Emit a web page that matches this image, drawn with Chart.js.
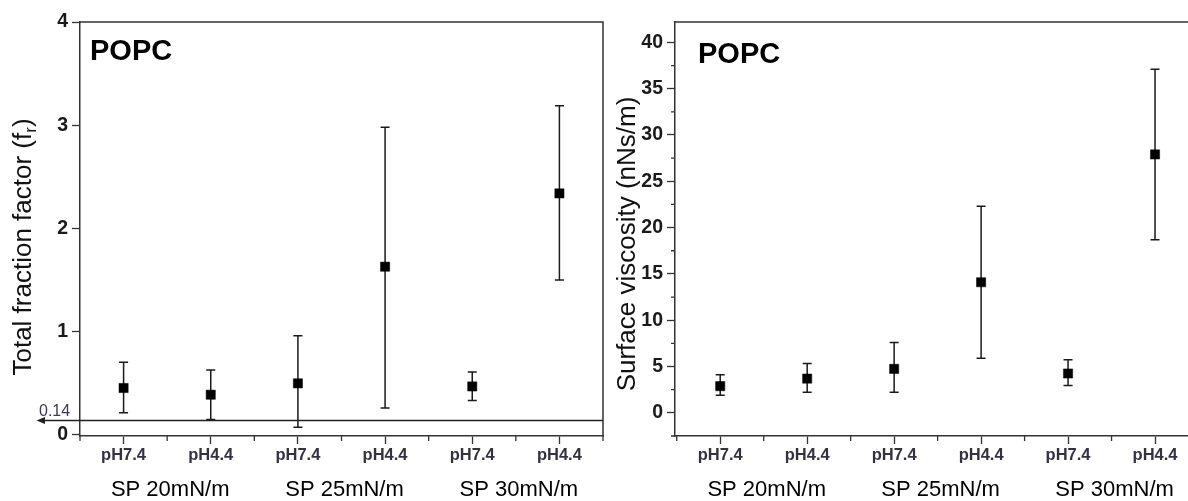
<!DOCTYPE html>
<html><head><meta charset="utf-8">
<script src="https://cdn.jsdelivr.net/npm/chart.js@4.4.1/dist/chart.umd.min.js"></script>
<style>
html,body{margin:0;padding:0;background:#fff;overflow:hidden;width:1188px;height:501px;}
#c1{position:absolute;left:0;top:0;}
#c2{position:absolute;left:605px;top:0;}
</style></head><body>
<canvas id="c1" width="615" height="501"></canvas>
<canvas id="c2" width="605" height="501"></canvas>
<script>
// ---- data ----
const categories = ['pH7.4', 'pH4.4', 'pH7.4', 'pH4.4', 'pH7.4', 'pH4.4'];
const groups = ['SP 20mN/m', 'SP 25mN/m', 'SP 30mN/m'];
const panelLabel = 'POPC';

const fractionMean = [0.455, 0.39, 0.50, 1.63, 0.47, 2.34];
const fractionLow  = [0.214, 0.15, 0.075, 0.26, 0.335, 1.50];
const fractionHigh = [0.705, 0.63, 0.96, 2.98, 0.61, 3.19];
const fractionTicks = [0, 1, 2, 3, 4];
const fractionRef = 0.14;
const fractionRefLabel = '0.14';

const viscMean = [2.88, 3.7, 4.75, 14.1, 4.25, 27.9];
const viscLow  = [1.9, 2.23, 2.23, 5.9, 2.95, 18.7];
const viscHigh = [4.1, 5.33, 7.6, 22.3, 5.73, 37.1];
const viscTicks = [0, 5, 10, 15, 20, 25, 30, 35, 40];
const viscMinorTicks = [-2.5, 2.5, 7.5, 12.5, 17.5, 22.5, 27.5, 32.5, 37.5];

const FONT = "'Liberation Sans', Arial, sans-serif";
const AXIS = '#333';

const errorBarPlugin = {
  id: 'errorBars',
  beforeDatasetsDraw(chart, args, opts) {
    const ctx = chart.ctx, xs = chart.scales.x, ys = chart.scales.y;
    ctx.save();
    ctx.strokeStyle = '#1a1a1a';
    ctx.lineWidth = 1.5;
    opts.low.forEach((lo, i) => {
      const x = xs.getPixelForValue(i + 0.5);
      const y1 = ys.getPixelForValue(lo), y2 = ys.getPixelForValue(opts.high[i]);
      ctx.beginPath();
      ctx.moveTo(x, y1); ctx.lineTo(x, y2);
      ctx.moveTo(x - 4.5, y1); ctx.lineTo(x + 4.5, y1);
      ctx.moveTo(x - 4.5, y2); ctx.lineTo(x + 4.5, y2);
      ctx.stroke();
    });
    ctx.restore();
  }
};

const decorPlugin = {
  id: 'decor',
  afterDraw(chart, args, o) {
    const ctx = chart.ctx, a = chart.chartArea, xs = chart.scales.x, ys = chart.scales.y;
    ctx.save();
    // box (top and right)
    ctx.strokeStyle = AXIS; ctx.lineWidth = 1.5;
    ctx.beginPath();
    ctx.moveTo(a.left, a.top); ctx.lineTo(a.right, a.top); ctx.lineTo(a.right, a.bottom);
    ctx.stroke();
    // x minor ticks at category boundaries
    ctx.lineWidth = 1.3;
    ctx.beginPath();
    for (let i = 0; i <= categories.length; i++) {
      const x = xs.getPixelForValue(i);
      if (x > a.right + 1) continue;
      ctx.moveTo(x, a.bottom); ctx.lineTo(x, a.bottom + 5);
    }
    (o.yMinor || []).forEach(v => {
      const y = ys.getPixelForValue(v);
      if (y < a.top || y > a.bottom) return;
      ctx.moveTo(a.left, y); ctx.lineTo(a.left - 4, y);
    });
    ctx.stroke();
    // reference line
    if (o.ref !== undefined) {
      const y = ys.getPixelForValue(o.ref);
      ctx.strokeStyle = '#222'; ctx.lineWidth = 1.5;
      ctx.beginPath(); ctx.moveTo(40, y); ctx.lineTo(a.right, y); ctx.stroke();
      ctx.fillStyle = '#222';
      ctx.beginPath(); ctx.moveTo(36.5, y); ctx.lineTo(45, y - 3.5); ctx.lineTo(45, y + 3.5); ctx.closePath(); ctx.fill();
      ctx.fillStyle = '#3a3a55';
      ctx.font = '16px ' + FONT;
      ctx.textAlign = 'left'; ctx.textBaseline = 'alphabetic';
      ctx.fillText(o.refLabel, 39, y - 5);
    }
    // panel label
    ctx.fillStyle = '#000';
    ctx.font = 'bold 29px ' + FONT;
    ctx.textAlign = 'left'; ctx.textBaseline = 'alphabetic';
    ctx.fillText(panelLabel, a.left + o.labelDx, o.labelY);
    // group labels
    ctx.font = '22px ' + FONT;
    ctx.textAlign = 'center';
    groups.forEach((g, i) => {
      const x = xs.getPixelForValue(2 * i + 1);
      ctx.fillText(g, x + 3, 496);
    });
    // y title
    ctx.translate(o.titleX, o.titleY);
    ctx.rotate(-Math.PI / 2);
    ctx.textBaseline = 'middle'; ctx.textAlign = 'left';
    const mainF = '26px ' + FONT, subF = '17px ' + FONT;
    const parts = o.title;
    let total = 0;
    parts.forEach(p => { ctx.font = p.sub ? subF : mainF; total += ctx.measureText(p.t).width; });
    let x0 = -total / 2;
    parts.forEach(p => {
      ctx.font = p.sub ? subF : mainF;
      ctx.fillStyle = '#111';
      ctx.fillText(p.t, x0, p.sub ? 7 : 0);
      x0 += ctx.measureText(p.t).width;
    });
    ctx.restore();
  }
};

function makeChart(id, mean, low, high, yMin, yMax, yTicks, yWidth, padRight, decor) {
  return new Chart(document.getElementById(id), {
    type: 'scatter',
    data: {
      datasets: [{
        data: mean.map((v, i) => ({ x: i + 0.5, y: v })),
        pointStyle: 'rect',
        pointRadius: 6.5,
        pointHoverRadius: 6.5,
        backgroundColor: '#000',
        borderColor: '#000',
        borderWidth: 0.5
      }]
    },
    options: {
      responsive: false,
      animation: false,
      events: [],
      layout: { padding: { left: 0, top: 22, right: padRight, bottom: 0 } },
      plugins: {
        legend: { display: false },
        tooltip: { enabled: false },
        errorBars: { low: low, high: high },
        decor: decor
      },
      scales: {
        x: {
          type: 'linear',
          min: decor.xMin, max: 6,
          afterBuildTicks: s => { s.ticks = categories.map((c, i) => ({ value: i + 0.5 })); },
          afterFit: s => { s.height = 65; },
          ticks: {
            callback: v => categories[Math.floor(v)],
            font: { family: FONT, size: 16.5, weight: 'bold' },
            color: '#333340',
            padding: 2, maxRotation: 0, autoSkip: false
          },
          grid: { drawOnChartArea: false, tickLength: 8, tickColor: AXIS, tickWidth: 1.3 },
          border: { color: AXIS, width: 1.5 }
        },
        y: {
          type: 'linear',
          min: yMin, max: yMax,
          afterBuildTicks: s => { s.ticks = yTicks.map(v => ({ value: v })); },
          afterFit: s => { s.width = yWidth; },
          ticks: {
            callback: v => String(v),
            font: { family: FONT, size: 19.5, weight: 'bold' },
            color: '#1a1a1a',
            padding: 4, autoSkip: false
          },
          grid: { drawOnChartArea: false, tickLength: 8, tickColor: AXIS, tickWidth: 1.3 },
          border: { color: AXIS, width: 1.5 }
        }
      }
    },
    plugins: [errorBarPlugin, decorPlugin]
  });
}

makeChart('c1', fractionMean, fractionLow, fractionHigh, -0.01, 4, fractionTicks, 80, 12, {
  xMin: 0, ref: fractionRef, refLabel: fractionRefLabel, labelDx: 10, labelY: 60,
  titleX: 24, titleY: 247,
  title: [{ t: 'Total fraction factor (f' }, { t: 'r', sub: true }, { t: ')' }]
});

makeChart('c2', viscMean, viscLow, viscHigh, -2.5, 42.2, viscTicks, 70, 11.5, {
  xMin: -0.02, yMinor: viscMinorTicks, labelDx: 23, labelY: 63,
  titleX: 23, titleY: 244,
  title: [{ t: 'Surface viscosity (nNs/m)' }]
});
</script>
</body></html>
